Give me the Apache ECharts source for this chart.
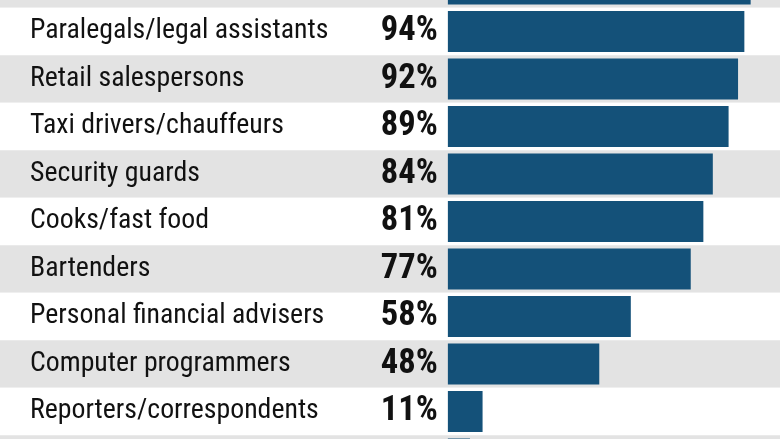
<!DOCTYPE html>
<html>
<head>
<meta charset="utf-8">
<script src="https://cdn.jsdelivr.net/npm/echarts@6/dist/echarts.min.js"></script>
<style>
html,body{margin:0;padding:0;background:#fff;}
#chart{width:780px;height:439px;}
</style>
</head>
<body>
<div id="chart"></div>
<script>
var categories = ['Receptionists','Paralegals/legal assistants','Retail salespersons','Taxi drivers/chauffeurs','Security guards','Cooks/fast food','Bartenders','Personal financial advisers','Computer programmers','Reporters/correspondents','Musicians/singers'];
var values = [96, 94, 92, 89, 84, 81, 77, 58, 48, 11, 7];

var FAMILY = "'Roboto Condensed','DejaVu Sans Condensed','Liberation Sans Narrow','Roboto','Noto Sans',sans-serif";
function fitSize(text, weight, target) {
  var c = document.createElement('canvas').getContext('2d');
  c.font = weight + ' 100px ' + FAMILY;
  return Math.round(target * 100 / c.measureText(text).width * 10) / 10;
}
var labelSize = fitSize('Paralegals/legal assistants', 'normal', 298);
var pctSize = fitSize('94%', 'bold', 57);

var chart = echarts.init(document.getElementById('chart'));
chart.setOption({
  animation: false,
  backgroundColor: '#ffffff',
  grid: { left: 0, right: 0, top: -39.75, height: 522.5, containLabel: false, outerBoundsMode: 'none' },
  xAxis: { type: 'value', min: -142, max: 105.3, show: false },
  yAxis: {
    type: 'category',
    data: categories,
    inverse: true,
    axisLine: { show: false },
    axisTick: { show: false },
    splitLine: { show: false },
    splitArea: { show: true, areaStyle: { color: ['#e3e3e3', '#ffffff'] } },
    axisLabel: {
      inside: true, margin: 30, align: 'left',
      color: '#111111', fontFamily: FAMILY, fontSize: labelSize
    }
  },
  series: [{
    type: 'bar',
    data: values,
    barWidth: 41,
    itemStyle: { color: '#145179' },
    label: {
      show: true, position: 'left', distance: 10,
      formatter: '{c}%',
      color: '#111111', fontFamily: FAMILY, fontWeight: 'bold', fontSize: pctSize
    }
  }]
});
</script>
</body>
</html>
